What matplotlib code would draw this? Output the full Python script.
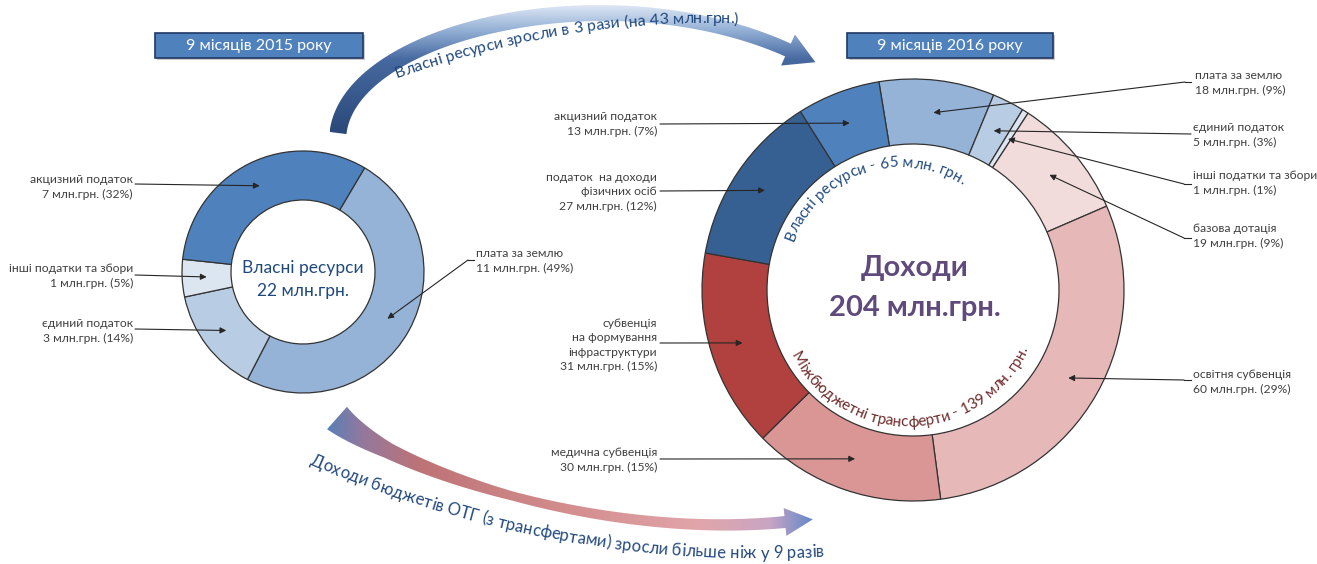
import numpy as np
import matplotlib
matplotlib.use('Agg')
import matplotlib.pyplot as plt
from matplotlib.patches import Rectangle, Polygon
from matplotlib.font_manager import FontProperties

W, H = 1317, 564
FONT = ['Lato', 'DejaVu Sans']
plt.rcParams['font.family'] = FONT

# ---------------- data ----------------
period_labels = ['9 місяців 2015 року', '9 місяців 2016 року']

left_categories = ['плата за землю', 'єдиний податок', 'інші податки та збори', 'акцизний податок']
left_values = [10.8, 3.1, 1.1, 7.0]
left_colors = ['#95B3D7', '#B8CCE4', '#DCE6F1', '#4F81BD']
left_center = ['Власні ресурси']

right_categories = ['плата за землю', 'єдиний податок', 'інші податки та збори',
                    'базова дотація', 'освітня субвенція', 'медична субвенція',
                    'субвенція\nна формування\nінфраструктури',
                    'податок  на доходи\nфізичних осіб', 'акцизний податок']
right_values = [18, 5, 1, 19, 60, 30, 31, 27, 13]
right_pct = [9, 3, 1, 9, 29, 15, 15, 12, 7]
right_colors = ['#95B3D7', '#B8CCE4', '#DCE6F1', '#F2DCDB', '#E6B9B8',
                '#D99694', '#B0413E', '#366092', '#4F81BD']
right_center = ['Доходи']
own_text = 'Власні ресурси - 65 млн. грн.'
transfer_text = 'Міжбюджетні трансферти - 139 млн. грн.'
top_arrow_text = 'Власні ресурси зросли в 3 рази (на 43 млн.грн.)'
bottom_arrow_text = 'Доходи бюджетів ОТГ (з трансфертами) зросли більше ніж у 9 разів'

# ---------------- figure ----------------
fig = plt.figure(figsize=(W / 100, H / 100), dpi=100)
fig.patch.set_facecolor('white')


def pie_axes(cx, cy, R, pad=1.04):
    s = R * pad
    a = fig.add_axes([(cx - s) / W, 1 - (cy + s) / H, 2 * s / W, 2 * s / H])
    return a


PAD = 1.04
LCX, LCY, LR, LRI = 303, 272, 121, 72
RCX, RCY, RR, RRI = 913, 290, 211, 146

axL = pie_axes(LCX, LCY, LR, PAD)
wl, _ = axL.pie(left_values, colors=left_colors, startangle=59.4, counterclock=False,
                radius=1, wedgeprops=dict(width=1 - LRI / LR, edgecolor='#333333', linewidth=0.9))
axL.set_xlim(-PAD, PAD); axL.set_ylim(-PAD, PAD); axL.set_aspect('auto'); axL.axis('off')

axR = pie_axes(RCX, RCY, RR, PAD)
wr, _ = axR.pie(right_values, colors=right_colors, startangle=99.3, counterclock=False,
                radius=1, wedgeprops=dict(width=1 - RRI / RR, edgecolor='#333333', linewidth=0.9))
axR.set_xlim(-PAD, PAD); axR.set_ylim(-PAD, PAD); axR.set_aspect('auto'); axR.axis('off')

ax = fig.add_axes([0, 0, 1, 1], zorder=5)
ax.set_xlim(0, W); ax.set_ylim(H, 0); ax.axis('off')

renderer = fig.canvas.get_renderer()


def tip(pax, wedge):
    th = np.deg2rad((wedge.theta1 + wedge.theta2) / 2)
    rm = wedge.r - wedge.width / 2
    p = pax.transData.transform((rm * np.cos(th), rm * np.sin(th)))
    return ax.transData.inverted().transform(p)


LINE = '#262626'
LFS = 8.7


def label(text, tx, ty, ha, start, elbow, target):
    ax.text(tx, ty, text, ha=ha, va='center', fontsize=LFS, color='#404040',
            linespacing=1.38, multialignment=ha, zorder=6)
    p0 = start
    if elbow is not None:
        ax.plot([start[0], elbow[0]], [start[1], elbow[1]], color=LINE, lw=0.8, zorder=6)
        p0 = elbow
    ax.annotate('', xy=tuple(target), xytext=tuple(p0),
                arrowprops=dict(arrowstyle='-|>', color=LINE, lw=0.8, shrinkA=0, shrinkB=0,
                                mutation_scale=9), zorder=6)


# left labels
left_layout = [(476, 261, 'left', (474, 260), (468, 260)),
               (133, 331, 'right', (135, 329), None),
               (133, 276, 'right', (135, 275), None),
               (133, 187, 'right', (135, 184), None)]
ltot = sum(left_values)
for cat, v, w, lay in zip(left_categories, left_values, wl, left_layout):
    txt = f'{cat}\n{round(v)} млн.грн. ({round(100 * v / ltot)}%)'
    label(txt, lay[0], lay[1], lay[2], lay[3], lay[4], tip(axL, w))

right_layout = [(1195, 83, 'left', (1191, 82), (1185, 82)),
                (1193, 135, 'left', (1191, 134), None),
                (1193, 183, 'left', (1191, 184), (1184, 184)),
                (1193, 236, 'left', (1191, 238), (1184, 238)),
                (1193, 382, 'left', (1191, 380), (1184, 380)),
                (657, 460, 'right', (660, 459), None),
                (657, 345, 'right', (660, 343), None),
                (657, 192, 'right', (660, 191), None),
                (657, 124, 'right', (660, 124), None)]
for cat, v, p, w, lay in zip(right_categories, right_values, right_pct, wr, right_layout):
    txt = f'{cat}\n{v} млн.грн. ({p}%)'
    label(txt, lay[0], lay[1], lay[2], lay[3], lay[4], tip(axR, w))

# header boxes
for (x0, x1), lab in zip([(155, 363), (847, 1053)], period_labels):
    ax.add_patch(Rectangle((x0 + 2, 35), x1 - x0, 25, facecolor='#A6A6A6', edgecolor='none',
                           alpha=0.6, zorder=2))
    ax.add_patch(Rectangle((x0, 33), x1 - x0, 25, facecolor='#4F81BD', edgecolor='#1F3864',
                           lw=1.2, zorder=3))
    ax.text((x0 + x1) / 2, 46, lab, ha='center', va='center', color='white', fontsize=11.5, zorder=4)

# centre texts
ax.text(LCX, 268, left_center[0], ha='center', va='center', fontsize=12.5, color='#1F497D', zorder=6)
ax.text(LCX, 291, f'{round(ltot)} млн.грн.', ha='center', va='center', fontsize=12.5,
        color='#1F497D', zorder=6)
ax.text(RCX + 2, 268, right_center[0], ha='center', va='center', fontsize=21, weight='bold',
        color='#604A7B', zorder=6)
ax.text(RCX + 2, 308, f'{sum(right_values)} млн.грн.', ha='center', va='center', fontsize=21,
        weight='bold', color='#604A7B', zorder=6)


# ---------------- curved text ----------------
def text_on_circle(s, cx, cy, r, theta_c, mode, fontsize, color, weight='normal'):
    prop = FontProperties(family=FONT, size=fontsize, weight=weight)
    base = renderer.get_text_width_height_descent('||', prop, ismath=False)[0]

    def wp(sub):
        return renderer.get_text_width_height_descent('|' + sub + '|', prop, ismath=False)[0] - base

    total = wp(s)
    for i, ch in enumerate(s):
        if ch == ' ':
            continue
        c = (wp(s[:i]) + wp(s[:i + 1])) / 2 - total / 2
        if mode == 'cw':
            ang = theta_c - np.degrees(c / r)
            rot = ang - 90
        else:
            ang = theta_c + np.degrees(c / r)
            rot = ang + 90
        x = cx + r * np.cos(np.radians(ang))
        y = cy - r * np.sin(np.radians(ang))
        ax.text(x, y, ch, rotation=rot, rotation_mode='anchor', ha='center', va='baseline',
                fontsize=fontsize, color=color, weight=weight, family=FONT, zorder=7)


text_on_circle(own_text, 900, 280, 113, 108.7, 'cw', 11, '#1F497D')
text_on_circle(transfer_text, 908, 295, 131.5, 271.5, 'ccw', 11, '#6E2A2A')


# ---------------- gradient arrows ----------------
def bezier(P, t):
    P = np.asarray(P, float)
    t = t[:, None]
    return ((1 - t) ** 3) * P[0] + 3 * ((1 - t) ** 2) * t * P[1] + 3 * (1 - t) * t ** 2 * P[2] + t ** 3 * P[3]


def band(P, wt, wv, head_hw, head_len):
    t = np.linspace(0, 1, 240)
    B = bezier(P, t)
    d = np.gradient(B, axis=0)
    d /= np.linalg.norm(d, axis=1)[:, None]
    n = np.stack([-d[:, 1], d[:, 0]], axis=1)
    w = np.interp(t, wt, wv)
    Lft = B + n * w[:, None]
    Rgt = B - n * w[:, None]
    E, T, N = B[-1], d[-1], n[-1]
    head = np.array([E + N * head_hw, E + T * head_len, E - N * head_hw])
    return np.vstack([Lft, head, Rgt[::-1]])


def gradient_fill(poly, pos, cols, axis):
    x0, y0 = poly.min(0)
    x1, y1 = poly.max(0)
    cols = np.asarray(cols, float) / 255.0
    if axis == 'y':
        q = np.linspace(y0, y1, 300)
        img = np.stack([np.interp(q, pos, cols[:, k]) for k in range(3)], axis=-1)[:, None, :]
    else:
        q = np.linspace(x0, x1, 600)
        img = np.stack([np.interp(q, pos, cols[:, k]) for k in range(3)], axis=-1)[None, :, :]
    im = ax.imshow(img, extent=(x0, x1, y1, y0), origin='upper', aspect='auto',
                   interpolation='bilinear', zorder=1)
    patch = Polygon(poly, closed=True, transform=ax.transData, facecolor='none', edgecolor='none')
    ax.add_patch(patch)
    im.set_clip_path(patch)


top_poly = band([(338, 133), (350, 30), (610, -30), (788, 50)],
                [0, 0.5, 1], [8.5, 8.5, 7], 17, 30)
gradient_fill(top_poly, [5, 30, 60, 140],
              [(225, 233, 245), (150, 178, 215), (70, 105, 160), (40, 70, 118)], 'y')

bot_poly = band([(337, 418), (395, 470), (600, 540), (785, 522)],
                [0, 0.2, 0.5, 1], [15, 8, 4.5, 6], 14, 28)
gradient_fill(bot_poly, [320, 365, 420, 560, 700, 770, 815],
              [(79, 129, 189), (150, 120, 155), (190, 115, 118), (210, 140, 140),
               (225, 165, 170), (200, 165, 195), (95, 135, 200)], 'x')

ax.set_xlim(0, W); ax.set_ylim(H, 0)

text_on_circle(top_arrow_text, 712, 952, 929, 99.1, 'cw', 11.5, '#1F497D')
text_on_circle(bottom_arrow_text, 763, -579, 1137.5, 259.8, 'ccw', 12, '#244A7F')

fig.savefig('out.png', dpi=100, facecolor='white')
